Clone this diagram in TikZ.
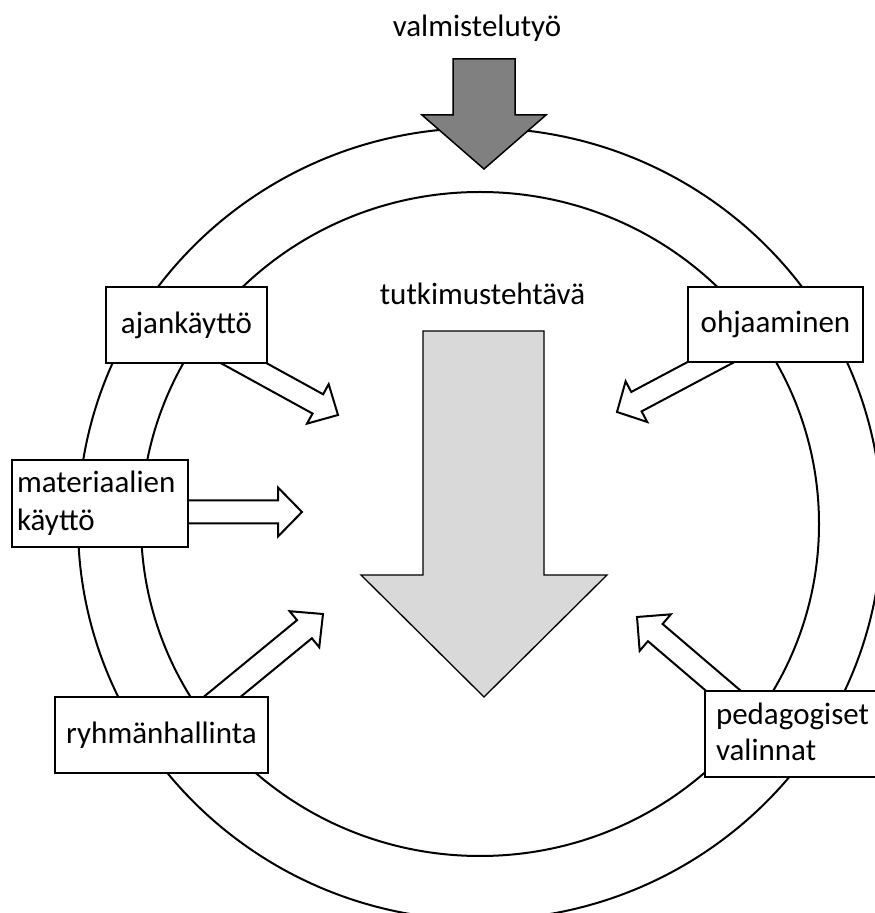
\documentclass[tikz,border=0pt]{standalone}
\usepackage{fontspec}
\setmainfont{Carlito}
\begin{document}
\begin{tikzpicture}[x=1pt,y=1pt,
  ring/.style={draw=black, line width=2pt},
  labelbox/.style={draw=black, fill=white, line width=2.2pt, inner sep=0pt,
    font=\fontsize{31}{38}\selectfont},
  plain/.style={font=\fontsize{31}{38}\selectfont, inner sep=0pt},
  barrow/.style={draw=black, fill=white, line width=2pt, line join=miter},
  bigarrow/.style={draw=black, line width=1.5pt, line join=miter}]
\useasboundingbox (0,0) rectangle (875,913);
\fill[white] (0,0) rectangle (875,913);
\newcommand\blockarr[7]{%
  \draw[barrow, shift={(#1,#2)}, rotate=#3] (0,0) -- (-#7,#6) -- (-#7,#5) -- (-#4,#5)
    -- (-#4,-#5) -- (-#7,-#5) -- (-#7,-#6) -- cycle;}
% rings
\draw[ring] (480,389) ellipse [x radius=402, y radius=396];
\draw[ring] (480,389) ellipse [x radius=339, y radius=332];
% top arrow
\draw[bigarrow, fill={rgb,255:red,128;green,128;blue,128}]
  (484,744) -- (546,798) -- (515,798) -- (515,854) -- (453,854) -- (453,798) -- (422,798) -- cycle;
% central arrow
\draw[bigarrow, line width=1.3pt, fill={rgb,255:red,217;green,217;blue,217}]
  (484,216) -- (607,338) -- (544,338) -- (544,582) -- (423,582) -- (423,338) -- (361,338) -- cycle;
% block arrows
\blockarr{338}{498}{-28.8}{140}{11}{22.5}{23}
\blockarr{617}{501}{208}{140}{11}{23}{22}
\blockarr{302}{401}{0}{130}{11.5}{24.5}{24}
\blockarr{323}{299}{39.4}{160}{11.7}{23.3}{24}
\blockarr{637}{296}{139.5}{145}{11.3}{24}{24}
% texts
\node[plain, anchor=base] (prep) at (477,876) {valmistelutyö};
\node[plain, anchor=base] (task) at (482.5,608) {tutkimustehtävä};
% boxes
\node[labelbox, minimum width=161, minimum height=76] (ajan) at (186.5,588) {ajankäyttö};
\node[labelbox, minimum width=175, minimum height=75] (ohj) at (775.5,588.5) {ohjaaminen};
\node[labelbox, minimum height=87, inner xsep=5pt, text width=166, align=left] (mat) at (100,409.5) {materiaalien\\käyttö};
\node[labelbox, minimum width=213, minimum height=76] (ryh) at (161.5,178) {ryhmänhallinta};
\node[labelbox, minimum height=86, inner xsep=11pt, text width=173, align=left,
  font=\fontsize{31}{36}\selectfont] (ped) at (802.5,179) {pedagogiset\\valinnat\vphantom{y}};
\end{tikzpicture}
\end{document}
